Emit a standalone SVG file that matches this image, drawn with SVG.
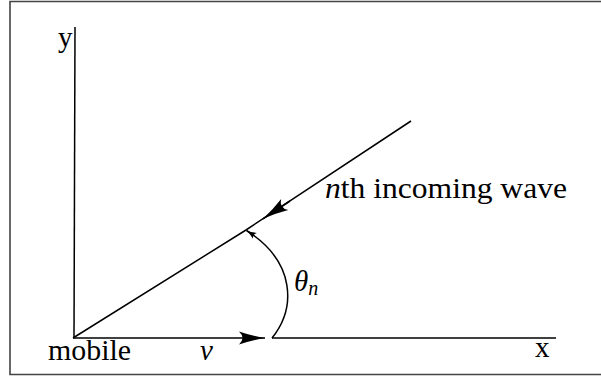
<svg xmlns="http://www.w3.org/2000/svg" width="601" height="378" viewBox="0 0 601 378">
<defs>
<style>
.ln{stroke:#000;stroke-width:1.5;fill:none}
.fr{stroke:#444;stroke-width:1.6;fill:none}
.t{font-family:"Liberation Serif","DejaVu Serif",serif;font-size:29px;fill:#000}
.i{font-family:"Liberation Serif","DejaVu Serif",serif;font-style:italic}
</style>
<marker id="big" viewBox="-27 -7 28 14" markerWidth="28" markerHeight="14" refX="0" refY="0" orient="auto" markerUnits="userSpaceOnUse">
<path d="M0,0 Q-13,-2 -26,-6.5 Q-19,0 -26,6.5 Q-13,2 0,0 Z" fill="#000"/>
</marker>
<marker id="small" viewBox="-11 -4 12 8" markerWidth="12" markerHeight="8" refX="0" refY="0" orient="auto" markerUnits="userSpaceOnUse">
<path d="M0,0 Q-5,-1 -10,-3.5 Q-7,0 -10,3.5 Q-5,1 0,0 Z" fill="#000"/>
</marker>
</defs>
<rect width="601" height="378" fill="#fff"/>
<g id="frame">
<path class="fr" d="M601,1.5 L10,1.5 L10,374.5 L601,374.5"/>
</g>
<g id="connectors">
<line class="ln" x1="75" y1="27" x2="74" y2="338"/>
<line class="ln" x1="73" y1="338" x2="265" y2="338" marker-end="url(#big)"/>
<line class="ln" x1="272" y1="338" x2="556" y2="338"/>
<polyline class="ln" points="73,338 246,230 411,121"/>
<line class="ln" x1="290" y1="201" x2="263" y2="218.8" marker-end="url(#big)"/>
<path class="ln" d="M272,338 C296,308 296,262 246.5,230.5" marker-end="url(#small)"/>
</g>
<g id="y-label"><text class="t" x="58" y="47">y</text></g>
<g id="x-label"><text class="t" x="535" y="357">x</text></g>
<g id="mobile"><text class="t" x="48" y="360" textLength="83" lengthAdjust="spacingAndGlyphs">mobile</text></g>
<g id="v-label"><text class="t i" x="200" y="360">v</text></g>
<g id="theta"><text class="t i" x="294" y="291">θ<tspan font-size="20" dy="4">n</tspan></text></g>
<g id="wave-label"><text class="t" x="325" y="198" textLength="242" lengthAdjust="spacingAndGlyphs"><tspan class="i">n</tspan>th incoming wave</text></g>
</svg>
